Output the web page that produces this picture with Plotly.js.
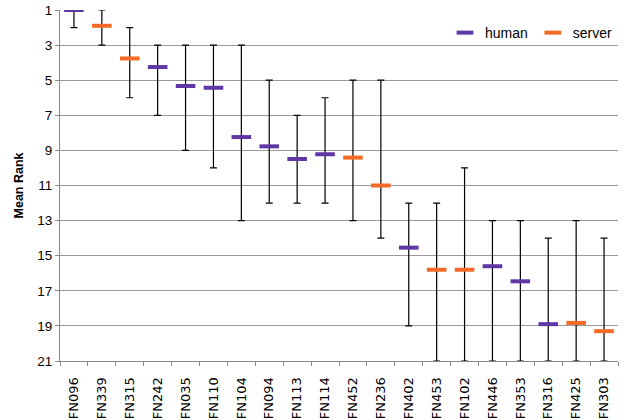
<!DOCTYPE html>
<html>
<head>
<meta charset="utf-8">
<script src="https://cdn.plot.ly/plotly-3.0.1.min.js"></script>
<style>html,body{margin:0;padding:0;background:#fff;}#chart{width:624px;height:420px;}</style>
</head>
<body>
<div id="chart"></div>
<script>
var categories = ["FN096","FN339","FN315","FN242","FN035","FN110","FN104","FN094","FN113","FN114","FN452","FN236","FN402","FN453","FN102","FN446","FN353","FN316","FN425","FN303"];
var groups =     ["human","server","server","human","human","human","human","human","human","human","server","server","human","server","server","human","human","human","server","server"];
var meanRank =   [1.0, 1.9, 3.76, 4.25, 5.33, 5.43, 8.24, 8.77, 9.49, 9.22, 9.41, 11.0, 14.54, 15.8, 15.8, 15.6, 16.46, 18.9, 18.83, 19.3];
var bestRank =   [1, 1, 2, 3, 3, 3, 3, 5, 7, 6, 5, 5, 12, 12, 10, 13, 13, 14, 13, 14];
var worstRank =  [2, 3, 6, 7, 9, 10, 13, 12, 12, 12, 13, 14, 19, 21, 21, 21, 21, 21, 21, 21];
var seriesNames = ["human", "server"];
var seriesColors = {human: "#5E37A4", server: "#F26A26"};

var traces = seriesNames.map(function(name){
  var x = [], y = [], plus = [], minus = [];
  categories.forEach(function(c, i){
    if (groups[i] === name) {
      x.push(c); y.push(meanRank[i]);
      plus.push(worstRank[i] - meanRank[i]);
      minus.push(meanRank[i] - bestRank[i]);
    }
  });
  return {
    type: "scatter", mode: "markers", name: name, x: x, y: y,
    showlegend: false,
    marker: {symbol: "line-ew", size: 14, color: seriesColors[name], line: {color: seriesColors[name], width: 4}},
    error_y: {type: "data", symmetric: false, array: plus, arrayminus: minus, color: "#000", thickness: 1.2, width: 3.5}
  };
});
// legend-only entries
seriesNames.forEach(function(name){
  traces.push({
    type: "scatter", mode: "markers", name: name, x: [null], y: [null],
    marker: {symbol: "line-ew", size: 12, color: seriesColors[name], line: {color: seriesColors[name], width: 4}}
  });
});

var layout = {
  width: 624, height: 420,
  margin: {l: 60, r: 6, t: 10, b: 59},
  paper_bgcolor: "#fff", plot_bgcolor: "#fff",
  font: {family: "DejaVu Sans, sans-serif", color: "#000"},
  showlegend: true,
  legend: {orientation: "h", x: 1.0, xanchor: "right", y: 0.98, yanchor: "top", font: {family: "Liberation Sans, sans-serif", size: 14}, bgcolor: "rgba(0,0,0,0)", itemwidth: 30},
  xaxis: {
    type: "category", categoryorder: "array", categoryarray: categories,
    range: [-0.5, categories.length - 0.5],
    tickson: "boundaries", ticks: "outside", ticklen: 4, tickcolor: "#888",
    tickangle: -90, tickfont: {family: "DejaVu Sans, sans-serif", size: 13},
    ticklabelstandoff: 10,
    showline: true, linecolor: "#888", linewidth: 1, showgrid: false, zeroline: false
  },
  yaxis: {
    range: [21, 1], tick0: 1, dtick: 2, autorange: false,
    ticks: "outside", ticklen: 4, tickcolor: "#888",
    tickfont: {family: "Liberation Sans, sans-serif", size: 13.5},
    showline: true, linecolor: "#888", linewidth: 1,
    showgrid: true, gridcolor: "#9a9a9a", gridwidth: 1.2, zeroline: false,
    title: {text: "<b>Mean Rank</b>", font: {family: "Liberation Sans, sans-serif", size: 12.5}, standoff: 10}
  }
};
Plotly.newPlot("chart", traces, layout, {displayModeBar: false, staticPlot: true});
</script>
</body>
</html>
